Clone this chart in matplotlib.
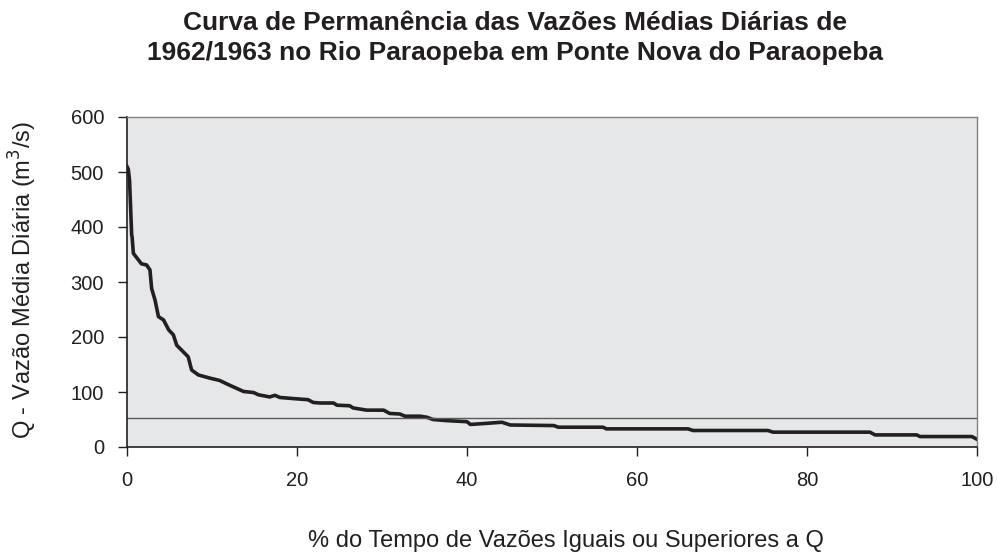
import matplotlib
matplotlib.use("Agg")
import matplotlib.pyplot as plt

plt.rcParams['font.family'] = ['Liberation Sans', 'DejaVu Sans']

# Duration curve: % of time flow is equalled or exceeded vs daily mean flow (m3/s)
pct = [0.0, 0.15, 0.3, 0.55, 0.6, 0.75, 1.7, 2.3, 2.7, 2.9, 3.3, 3.7, 4.3, 4.9, 5.45,
       5.85, 7.2, 7.6, 8.4, 9.8, 10.9, 11.7, 12.7, 13.7, 14.9, 15.45, 16.8, 17.4, 18.0,
       19.6, 21.3, 21.9, 22.7, 24.3, 24.7, 26.2, 26.6, 28.2, 30.2, 30.9, 32.1, 32.7,
       34.5, 35.3, 36.0, 37.6, 40.0, 40.4, 42.3, 44.1, 45.1, 50.2, 50.75, 56.0, 56.4,
       66.0, 66.6, 75.4, 76.0, 87.4, 88.0, 92.9, 93.3, 99.4, 100.0]
flow = [510, 505, 485, 385, 382, 352, 333, 331, 322, 288, 267, 237, 231, 213, 204,
        185, 164, 140, 131, 125, 121, 115, 108, 101, 99, 95, 91, 94, 90,
        88, 86, 81, 80, 80, 76, 75, 71, 67, 67, 61, 60, 56,
        56, 54, 50, 48, 46, 41, 43, 45, 40, 39, 36, 36, 33,
        33, 30, 30, 27, 27, 22, 22, 19, 19, 14]
ref_flow = 53

title = "Curva de Permanência das Vazões Médias Diárias de\n1962/1963 no Rio Paraopeba em Ponte Nova do Paraopeba"
xlabel = "% do Tempo de Vazões Iguais ou Superiores a Q"
ylabel = "Q - Vazão Média Diária (m$^3$/s)"
xticks = [0, 20, 40, 60, 80, 100]
yticks = [0, 100, 200, 300, 400, 500, 600]

fig = plt.figure(figsize=(9.97, 5.55), dpi=100)
ax = fig.add_axes([127/997, 1 - 447/555, 850/997, 330/555])
ax.set_facecolor('#e6e7e8')
ax.plot(pct, flow, color='#231f20', lw=2.6, solid_joinstyle='round')
ax.axhline(ref_flow, color='#58595b', lw=1.0)
ax.set_xlim(0, 100)
ax.set_ylim(0, 600)
ax.set_xticks(xticks)
ax.set_yticks(yticks)
ax.tick_params(labelsize=14.5, length=6.5, width=1, colors='#231f20')
ax.tick_params(axis='x', pad=11)
ax.tick_params(axis='y', pad=10)
for s in ['left', 'bottom']:
    ax.spines[s].set_color('#231f20')
    ax.spines[s].set_linewidth(1.2)
for s in ['top', 'right']:
    ax.spines[s].set_color('#808285')
    ax.spines[s].set_linewidth(1.0)

fig.text(515/997, 1 - 38/555, title, ha='center', va='center', fontsize=19,
         fontweight='bold', color='#231f20', linespacing=1.3)
fig.text(566/997, 1 - 541/555, xlabel, ha='center', va='center', fontsize=17,
         color='#231f20')
fig.text(23/997, 1 - 280/555, ylabel, ha='center', va='center', rotation=90,
         fontsize=17, color='#231f20')

fig.savefig('out.png', dpi=100)
